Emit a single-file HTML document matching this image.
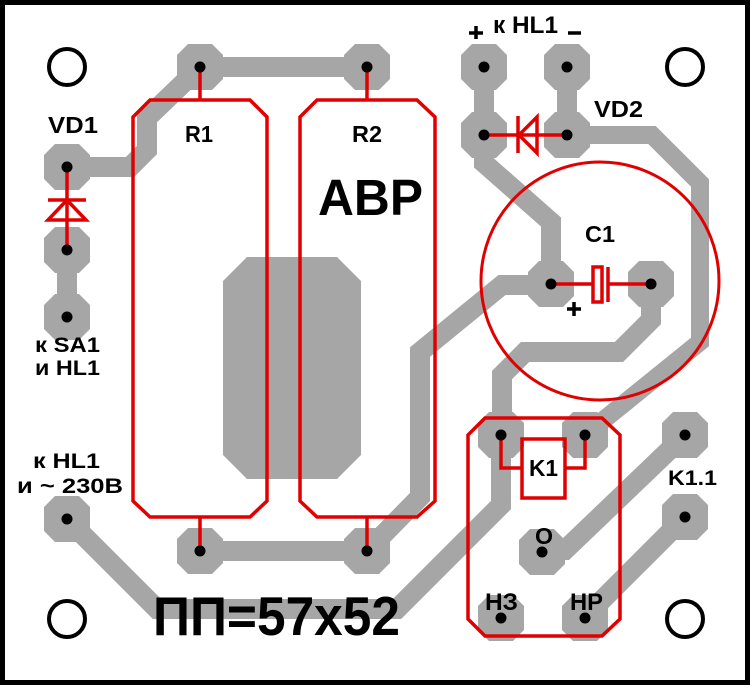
<!DOCTYPE html>
<html><head><meta charset="utf-8"><style>
html,body{margin:0;padding:0;background:#fff;}
svg{display:block;}
text{font-family:"Liberation Sans",Arial,sans-serif;font-weight:bold;fill:#000;}
</style></head><body>
<svg width="750" height="685" viewBox="0 0 750 685" xmlns="http://www.w3.org/2000/svg">
<defs>
<polygon id="pad" points="-12,-23 12,-23 23,-12 23,12 12,23 -12,23 -23,12 -23,-12" fill="#a6a6a6"/>
</defs>
<rect x="0" y="0" width="750" height="685" fill="#fff"/>

<!-- traces -->
<g fill="none" stroke="#a6a6a6" stroke-width="20" stroke-linejoin="miter">
<path d="M200,67 L367,67"/>
<path d="M200,67 L147,118 L147,150 L130,167 L67,167"/>
<path d="M67,250 L67,317"/>
<path d="M200,551 L367,551"/>
<path d="M67,519 L157,609 L397,609 L501,505 L501,435"/>
<path d="M484,67 L484,135"/>
<path d="M567,67 L567,135"/>
<path d="M484,135 L484,163 L551,222 L551,284"/>
<path d="M567,135 L652,135 L700,183 L700,342 L585,435" stroke-width="18"/>
<path d="M551,285 L502,285 L420,352 L420,497 L367,551"/>
<path d="M651,284 L651,320 L619,352 L525,352 L502,375 L502,435"/>
<path d="M542,550 L565,550 L685,435"/>
<path d="M685,517 L585,617"/>
</g>

<!-- big pad -->
<polygon points="247,257 337,257 361,281 361,455 337,479 247,479 223,455 223,281" fill="#a6a6a6"/>

<!-- pads -->
<use href="#pad" x="200" y="67"/>
<use href="#pad" x="367" y="67"/>
<use href="#pad" x="67" y="167"/>
<use href="#pad" x="67" y="250"/>
<use href="#pad" x="67" y="317"/>
<use href="#pad" x="67" y="519"/>
<use href="#pad" x="200" y="551"/>
<use href="#pad" x="367" y="551"/>
<use href="#pad" x="484" y="67"/>
<use href="#pad" x="567" y="67"/>
<use href="#pad" x="484" y="135"/>
<use href="#pad" x="567" y="135"/>
<use href="#pad" x="551" y="284"/>
<use href="#pad" x="651" y="284"/>
<use href="#pad" x="501" y="435"/>
<use href="#pad" x="585" y="435"/>
<use href="#pad" x="685" y="435"/>
<use href="#pad" x="685" y="517"/>
<use href="#pad" x="542" y="552"/>
<use href="#pad" x="501" y="618"/>
<use href="#pad" x="585" y="618"/>

<!-- red component outlines -->
<g fill="none" stroke="#e00000" stroke-width="3.5" stroke-linejoin="miter">
<path d="M150,100 L250,100 L267,117 L267,501 L250,517 L150,517 L133,501 L133,117 Z"/>
<path d="M317,100 L417,100 L435,117 L435,501 L417,517 L317,517 L300,501 L300,117 Z"/>
<path d="M200,67 V100 M367,67 V100 M200,517 V551 M367,517 V551"/>
<circle cx="600" cy="281" r="119" stroke-width="3"/>
<path d="M485,418 L602,418 L620,435 L620,619 L602,636 L485,636 L468,619 L468,435 Z"/>
<rect x="522" y="439" width="43" height="59"/>
<path d="M501,435 V468 H522 M585,435 V468 H565"/>
<!-- VD1 -->
<path d="M67,167 V250 M48,200 H86"/>
<path d="M67,200 L48,220 L86,220 Z"/>
<!-- VD2 -->
<path d="M484,135 H567 M518,116 V153"/>
<path d="M519,135 L537,117 L537,153 Z"/>
<!-- C1 -->
<path d="M551,284 H593 M608,284 H651 M608,267 V302"/>
<rect x="593" y="267" width="9" height="35"/>
</g>

<!-- drill dots -->
<g fill="#000">
<circle cx="200" cy="67" r="5.5"/>
<circle cx="367" cy="67" r="5.5"/>
<circle cx="67" cy="167" r="5.5"/>
<circle cx="67" cy="250" r="5.5"/>
<circle cx="67" cy="317" r="5.5"/>
<circle cx="67" cy="519" r="5.5"/>
<circle cx="200" cy="551" r="5.5"/>
<circle cx="367" cy="551" r="5.5"/>
<circle cx="484" cy="67" r="5.5"/>
<circle cx="567" cy="67" r="5.5"/>
<circle cx="484" cy="135" r="5.5"/>
<circle cx="567" cy="135" r="5.5"/>
<circle cx="551" cy="284" r="5.5"/>
<circle cx="651" cy="284" r="5.5"/>
<circle cx="501" cy="435" r="5.5"/>
<circle cx="585" cy="435" r="5.5"/>
<circle cx="685" cy="435" r="5.5"/>
<circle cx="685" cy="517" r="5.5"/>
<circle cx="542" cy="552" r="5.5"/>
<circle cx="501" cy="618" r="5.5"/>
<circle cx="585" cy="618" r="5.5"/>
</g>

<!-- mounting holes -->
<g fill="none" stroke="#000" stroke-width="4">
<circle cx="67" cy="67" r="18"/>
<circle cx="685" cy="67" r="18"/>
<circle cx="67" cy="619" r="18"/>
<circle cx="685" cy="619" r="18"/>
</g>

<!-- plus / minus marks -->
<g stroke="#000" stroke-width="3.5" fill="none">
<path d="M469,33 H483 M476,26 V39"/>
<path d="M567,309 H581 M574,302 V316"/>
<path d="M568,33 H581"/>
</g>

<!-- labels -->
<text x="48" y="133" font-size="23" textLength="50" lengthAdjust="spacingAndGlyphs">VD1</text>
<text x="185" y="142" font-size="23" textLength="28" lengthAdjust="spacingAndGlyphs">R1</text>
<text x="352" y="142" font-size="23" textLength="30" lengthAdjust="spacingAndGlyphs">R2</text>
<text x="318" y="215" font-size="51" textLength="105" lengthAdjust="spacingAndGlyphs">АВР</text>
<text x="35" y="352" font-size="21" textLength="65" lengthAdjust="spacingAndGlyphs">к SA1</text>
<text x="35" y="375" font-size="21" textLength="65" lengthAdjust="spacingAndGlyphs">и HL1</text>
<text x="33" y="468" font-size="21" textLength="67" lengthAdjust="spacingAndGlyphs">к HL1</text>
<text x="17" y="493" font-size="21" textLength="106" lengthAdjust="spacingAndGlyphs">и ~ 230В</text>
<text x="153" y="635" font-size="55" textLength="247" lengthAdjust="spacingAndGlyphs">ПП=57x52</text>
<text x="493" y="33" font-size="24" textLength="65" lengthAdjust="spacingAndGlyphs">к HL1</text>
<text x="594" y="117" font-size="23" textLength="49" lengthAdjust="spacingAndGlyphs">VD2</text>
<text x="585" y="242" font-size="23" textLength="30" lengthAdjust="spacingAndGlyphs">C1</text>
<text x="529" y="476" font-size="23" textLength="29" lengthAdjust="spacingAndGlyphs">K1</text>
<text x="668" y="485" font-size="21" textLength="49" lengthAdjust="spacingAndGlyphs">K1.1</text>
<text x="535" y="544" font-size="23" textLength="18" lengthAdjust="spacingAndGlyphs">O</text>
<text x="485" y="610" font-size="24" textLength="33" lengthAdjust="spacingAndGlyphs">НЗ</text>
<text x="570" y="610" font-size="24" textLength="33" lengthAdjust="spacingAndGlyphs">НР</text>

<!-- frame -->
<rect x="2.5" y="2.5" width="745" height="680" fill="none" stroke="#000" stroke-width="5"/>
</svg>
</body></html>
